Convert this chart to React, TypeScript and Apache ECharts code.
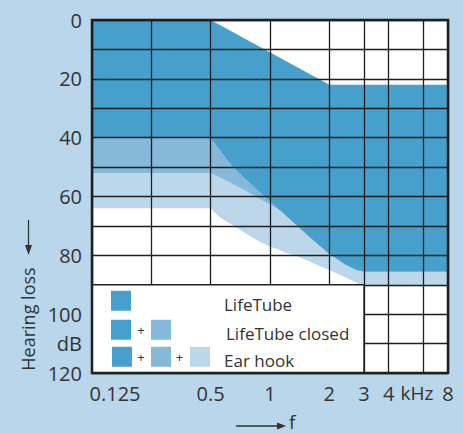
import React, { useEffect, useRef } from 'react';
import * as echarts from 'echarts';

// Frequency axis (kHz), log2 spaced
const freqTicks = [0.125, 0.25, 0.5, 1, 2, 3, 4, 6, 8];
const freqTickLabels = ['0.125', '', '0.5', '1', '2', '3', '4', 'kHz', '8'];
// Hearing loss axis (dB)
const dbMin = 0;
const dbMax = 120;
const dbInterval = 10;
const dbLabelMap: Record<number, string> = { 0: '0', 20: '20', 40: '40', 60: '60', 80: '80', 100: '100', 110: 'dB', 120: '120' };

// Upper edge of the fitting range (white above)
const topFreq = [0.125, 0.5, 2, 8];
const topDb = [0, 0, 22, 22];
// LifeTube lower edge
const lifeTubeFreq = [0.125, 0.5, 0.57, 0.65, 0.78, 0.94, 1.14, 1.38, 1.67, 2, 2.4, 2.75, 3, 8];
const lifeTubeDb = [40, 40, 45, 50, 55, 60, 65, 70, 75, 79.5, 83, 85, 85.5, 85.5];
// LifeTube closed lower edge
const closedFreq = [0.125, 0.5, 0.62, 0.75, 0.9, 1.05, 1.14, 1.38, 1.67, 2, 2.4, 2.75, 3, 8];
const closedDb = [52, 52, 55, 58, 61, 63.5, 65, 70, 75, 79.5, 83, 85, 85.5, 85.5];
// Ear hook lower edge
const earHookFreq = [0.125, 0.5, 0.52, 0.55, 0.6, 0.66, 0.75, 0.87, 1, 1.2, 1.4, 1.7, 2, 2.5, 3, 8];
const earHookDb = [64, 64, 65.3, 66.8, 68.5, 70, 72.5, 75, 77, 79, 80.5, 83, 85, 88, 90.5, 90.5];

const legendNames = ['LifeTube', 'LifeTube closed', 'Ear hook'];
const legendBoxFreq = [0.125, 3];
const legendBoxDb = [90, 120];

const COLORS = {
  bg: '#bad6ea',
  dark: '#47a0cc',
  medium: '#86b8d9',
  light: '#bcd7ea',
  line: '#1e1e1e',
  text: '#333333',
};
const FONT = 'Open Sans';

const toPairs = (f: number[], d: number[]) => f.map((v, i) => [Math.log2(v), d[i]]);

export default function App() {
  const ref = useRef<HTMLDivElement>(null);
  useEffect(() => {
    if (!ref.current) return;
    const chart = echarts.init(ref.current, undefined, { renderer: 'svg' });
    const tickVals = freqTicks.map((f) => Math.log2(f));
    const areaSeries = (name: string, data: number[][], color: string, z: number) => ({
      name,
      type: 'line',
      data,
      symbol: 'none',
      z,
      silent: true,
      lineStyle: { width: 0, opacity: 0 },
      areaStyle: { color, opacity: 1 },
    });
    const legendRows = [[COLORS.dark], [COLORS.dark, COLORS.medium], [COLORS.dark, COLORS.medium, COLORS.light]];
    chart.setOption({
      animation: false,
      backgroundColor: COLORS.bg,
      grid: { left: 92, right: 15, top: 20, bottom: 61, show: true, backgroundColor: '#ffffff', borderWidth: 0 },
      xAxis: {
        type: 'value',
        min: Math.log2(freqTicks[0]),
        max: Math.log2(freqTicks[freqTicks.length - 1]),
        z: 10,
        axisLine: { show: false },
        axisTick: { show: false, customValues: tickVals },
        splitLine: { show: true, lineStyle: { color: COLORS.line, width: 1.3 } },
        axisLabel: {
          customValues: tickVals,
          margin: 10,
          color: COLORS.text,
          fontSize: 20,
          fontFamily: FONT,
          formatter: (v: number) => {
            const i = tickVals.findIndex((t) => Math.abs(t - v) < 1e-6);
            if (i < 0) return '';
            if (i === 0) return '{first|' + freqTickLabels[i] + '}';
            if (freqTickLabels[i] === 'kHz') return '{unit|' + freqTickLabels[i] + '}';
            return freqTickLabels[i];
          },
          rich: {
            first: { padding: [0, 0, 0, 46], fontSize: 20, fontFamily: FONT, color: COLORS.text },
            unit: { padding: [0, 13, 0, 0], fontSize: 19, fontFamily: FONT, color: COLORS.text },
          },
        },
      },
      yAxis: {
        type: 'value',
        inverse: true,
        min: dbMin,
        max: dbMax,
        interval: dbInterval,
        z: 10,
        axisLine: { show: false },
        axisTick: { show: false },
        splitLine: { show: true, lineStyle: { color: COLORS.line, width: 1.3 } },
        axisLabel: {
          margin: 10,
          color: COLORS.text,
          fontSize: 20,
          fontFamily: FONT,
          padding: [0, 0, 5, 0],
          formatter: (v: number) => dbLabelMap[v] ?? '',
        },
      },
      series: [
        areaSeries('Ear hook', toPairs(earHookFreq, earHookDb), COLORS.light, 2),
        areaSeries('LifeTube closed', toPairs(closedFreq, closedDb), COLORS.medium, 3),
        areaSeries('LifeTube', toPairs(lifeTubeFreq, lifeTubeDb), COLORS.dark, 4),
        areaSeries('limit', toPairs(topFreq, topDb), '#ffffff', 5),
        {
          type: 'custom',
          z: 20,
          silent: true,
          data: [[0, 0]],
          renderItem: (params: any, api: any) => {
            if (params.dataIndex !== 0) return null;
            const tl = api.coord([Math.log2(legendBoxFreq[0]), legendBoxDb[0]]);
            const br = api.coord([Math.log2(legendBoxFreq[1]), legendBoxDb[1]]);
            const pTL = api.coord([Math.log2(freqTicks[0]), dbMin]);
            const pBR = api.coord([Math.log2(freqTicks[freqTicks.length - 1]), dbMax]);
            const bx = tl[0];
            const by = tl[1];
            const children: any[] = [
              {
                type: 'rect',
                shape: { x: bx, y: by, width: br[0] - bx, height: br[1] - by },
                style: { fill: '#ffffff', stroke: COLORS.line, lineWidth: 1.5 },
              },
            ];
            const rowTops = [6, 35, 62];
            const swX = [19, 59, 98];
            const plusX = [49, 87.5];
            legendRows.forEach((row, r) => {
              row.forEach((c, j) => {
                children.push({
                  type: 'rect',
                  shape: { x: bx + swX[j] + (r === 2 && j === 0 ? 1 : 0), y: by + rowTops[r], width: 20, height: 20 },
                  style: { fill: c },
                });
                if (j > 0) {
                  children.push({
                    type: 'text',
                    style: {
                      text: '+', x: bx + plusX[j - 1], y: by + rowTops[r] + 10,
                      align: 'center', verticalAlign: 'middle', fontSize: 13, fontFamily: FONT, fill: COLORS.text,
                    },
                  });
                }
              });
              children.push({
                type: 'text',
                style: {
                  text: legendNames[r], x: bx + (r === 1 ? 134 : 132), y: by + rowTops[r] + 13.5,
                  align: 'left', verticalAlign: 'middle', fontSize: 17, fontFamily: FONT, fill: COLORS.text,
                },
              });
            });
            children.push({
              type: 'rect',
              shape: { x: pTL[0], y: pTL[1], width: pBR[0] - pTL[0], height: pBR[1] - pTL[1] },
              style: { fill: 'none', stroke: COLORS.line, lineWidth: 2.5 },
            });
            return { type: 'group', children };
          },
        },
      ],
      graphic: [
        { type: 'line', shape: { x1: 236, y1: 426, x2: 280, y2: 426 }, style: { stroke: COLORS.text, lineWidth: 1.3 } },
        { type: 'polygon', shape: { points: [[277, 422.5], [286, 426], [277, 429.5]] }, style: { fill: COLORS.text } },
        { type: 'text', style: { text: 'f', x: 289, y: 422, align: 'left', verticalAlign: 'middle', fontSize: 19, lineHeight: 19, fontFamily: FONT, fill: COLORS.text } },
        { type: 'line', shape: { x1: 28.5, y1: 220, x2: 28.5, y2: 248 }, style: { stroke: COLORS.text, lineWidth: 1.3 } },
        { type: 'polygon', shape: { points: [[25, 245], [28.5, 255], [32, 245]] }, style: { fill: COLORS.text } },
        { type: 'text', rotation: Math.PI / 2, x: 28, y: 319, style: { text: 'Hearing loss', x: 0, y: 0, align: 'center', verticalAlign: 'middle', fontSize: 18, fontFamily: FONT, fill: COLORS.text } },
      ],
    });
    return () => chart.dispose();
  }, []);
  return <div ref={ref} style={{ position: 'fixed', left: 0, top: 0, width: 463, height: 434 }} />;
}
